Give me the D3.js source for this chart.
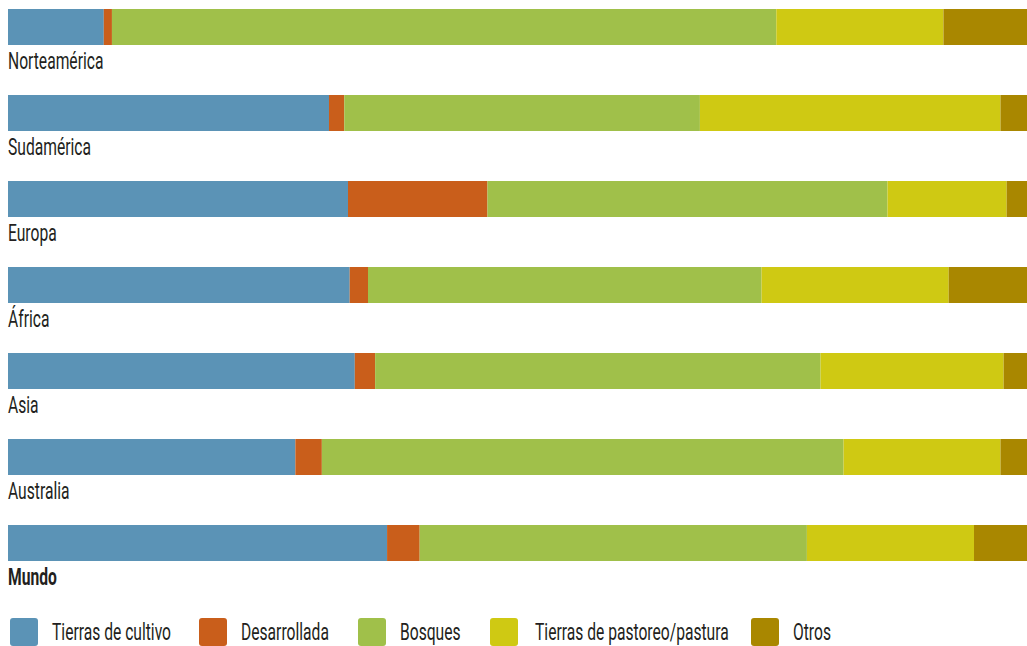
<!DOCTYPE html>
<html>
<head>
<meta charset="utf-8">
<script src="https://cdn.jsdelivr.net/npm/d3@7"></script>
<style>
  body { margin: 0; background: #fff; }
  text { font-family: Roboto, "Noto Sans", sans-serif; fill: #231f20; }
</style>
</head>
<body>
<div id="chart"></div>
<script>
const width = 1027;
const height = 646;

// regions, top to bottom
const regions = ['Norteamérica', 'Sudamérica', 'Europa', 'África', 'Asia', 'Australia', 'Mundo'];
const landUses = ['Tierras de cultivo', 'Desarrollada', 'Bosques', 'Tierras de pastoreo/pastura', 'Otros'];
const colors = ['#5b93b6', '#c95e1b', '#a0c04a', '#cfc913', '#a98700'];

// percent of land area per region
const cultivo    = [9.4, 31.5, 33.4, 33.6, 34.1, 28.2, 37.2];
const desarrollada = [0.8, 1.5, 13.7, 1.8, 2.0, 2.6, 3.2];
const bosques    = [65.2, 34.9, 39.3, 38.7, 43.8, 51.2, 38.0];
const pastoreo   = [16.4, 29.5, 11.7, 18.4, 18.0, 15.4, 16.4];
const otros      = [8.2, 2.6, 2.0, 7.7, 2.3, 2.6, 5.2];

const series = [cultivo, desarrollada, bosques, pastoreo, otros];

const rows = regions.map((r, i) => {
    const row = { region: r };
    landUses.forEach((k, j) => row[k] = series[j][i]);
    return row;
});

const stacked = d3.stack().keys(landUses).offset(d3.stackOffsetExpand)(rows);

const svg = d3.select('#chart')
    .append('svg')
    .attr('width', width)
    .attr('height', height);

const x = d3.scaleLinear()
    .domain([0, 1])
    .range([8, 1027]);

// each row = bar + label, 86px apart
const y = d3.scalePoint()
    .domain(regions)
    .range([9, 525]);

const barH = 36;
// condensed look: squeeze the text horizontally
const squeeze = 0.68;

svg.append('g')
    .selectAll('g')
    .data(stacked)
    .join('g')
    .attr('fill', (d, i) => colors[i])
    .selectAll('rect')
    .data(d => d)
    .join('rect')
        .attr('x', d => x(d[0]))
        .attr('y', d => y(d.data.region))
        .attr('width', d => x(d[1]) - x(d[0]))
        .attr('height', barH);

svg.append('g')
    .selectAll('text')
    .data(regions)
    .join('text')
        .attr('transform', d => `translate(8, ${y(d) + barH + 24}) scale(${squeeze}, 1)`)
        .attr('font-size', 23)
        .attr('font-weight', d => d === 'Mundo' ? 'bold' : 'normal')
        .text(d => d);

// legend
const legendX = [10, 199, 358, 490, 751];
const legend = svg.append('g')
    .selectAll('g')
    .data(landUses)
    .join('g')
    .attr('transform', (d, i) => `translate(${legendX[i]}, 618)`);

legend.append('rect')
    .attr('width', 28)
    .attr('height', 28)
    .attr('rx', 3)
    .attr('fill', (d, i) => colors[i]);

legend.append('text')
    .attr('transform', (d, i) => `translate(${i === 3 ? 45 : 42}, 22) scale(${squeeze}, 1)`)
    .attr('font-size', 23)
    .text(d => d);
</script>
</body>
</html>
